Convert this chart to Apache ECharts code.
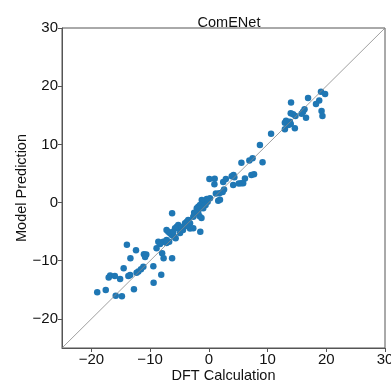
<!DOCTYPE html>
<html>
<head>
<meta charset="utf-8">
<script src="https://cdn.jsdelivr.net/npm/echarts@6/dist/echarts.min.js"></script>
<style>
  html, body { margin: 0; padding: 0; background: #fff; }
  #chart { width: 391px; height: 382px; }
</style>
</head>
<body>
<div id="chart"></div>
<script>
// DFT value (x) and model prediction (y)
const dftValues = [
  19.1, 19.8, 16.9, 14.0, 18.8, 18.25, 19.2, 19.35, 16.3, 16.05,
  15.8, 13.95, 14.35, 14.75, 16.55, 13.15, 12.95, 13.8, 13.95, 13.55,
  12.95, 14.65, 10.6, 8.7, 7.45, 6.9, 5.55, 9.15, 4.2, 3.9,
  4.35, 2.9, 7.7, 7.25, 6.15, 5.85, 5.5, 5.1, 4.15, 2.6,
  2.35, 1.8, 1.6, 1.9, 0.1, 1.0, 0.95, 2.45, 1.2, -1.2,
  -0.35, 0.2, -0.95, -0.2, -1.5, -1.8, -2.05, -0.55, -0.95, -1.8,
  -2.25, -2.5, -1.6, -1.25, -2.65, -6.25, -3.5, -3.75, -3.2, -4.05,
  -5.2, -5.45, -5.1, -4.6, -5.75, -3.2, -2.65, -1.45, -7.2, -6.9,
  -6.6, -6.3, -6.05, -5.9, -5.65, -8.6, -7.75, -7.2, -6.75, -7.2,
  -8.3, -8.9, -7.95, -7.7, -6.25, -13.95, -12.4, -11.05, -10.65, -10.85,
  -13.35, -9.45, -14.5, -11.15, -11.55, -12.0, -12.3, -16.8, -17.05, -16.0,
  -15.1, -13.7, -13.4, -8.1, -9.4, -12.75, -17.55, -19.0, -15.85, -14.8,
  -4.9, -4.4, -3.9
];
const predValues = [
  19.05, 18.66, 17.97, 17.2, 17.54, 16.94, 15.73, 14.87, 16.03, 15.6,
  15.27, 15.34, 15.18, 14.87, 14.58, 14.07, 13.72, 13.9, 13.5, 13.33,
  12.59, 12.76, 11.83, 9.89, 7.6, 7.23, 6.85, 6.92, 4.73, 4.51,
  4.34, 4.05, 4.85, 4.73, 4.13, 3.3, 3.3, 3.27, 3.02, 2.24,
  1.81, 1.59, 0.32, 0.47, 4.05, 4.08, 3.14, 3.53, 1.55, 0.44,
  0.61, 0.73, 0.14, 0.14, -0.42, -0.71, -1.0, -0.42, -1.0, -1.57,
  -1.85, -1.75, -2.31, -2.66, -2.43, -1.85, -3.0, -3.29, -3.57, -3.57,
  -3.86, -4.15, -4.43, -4.26, -4.43, -4.46, -4.43, -5.0, -4.72, -5.0,
  -5.29, -5.58, -5.0, -5.87, -6.15, -6.73, -6.73, -6.44, -6.73, -6.95,
  -7.13, -7.87, -8.72, -9.58, -9.58, -7.25, -8.2, -8.9, -8.93, -9.36,
  -9.58, -10.96, -11.3, -11.05, -11.47, -11.85, -12.06, -12.54, -12.88, -12.63,
  -13.14, -12.63, -12.45, -12.4, -13.78, -14.91, -15.03, -15.4, -16.0, -16.1,
  -5.24, -4.72, -4.03
];
const tickValues = [-20, -10, 0, 10, 20, 30];
const axisMin = -25;
const axisMax = 30;

const points = dftValues.map((x, i) => [x, predValues[i]]);

const chart = echarts.init(document.getElementById('chart'));

const axisCommon = {
  type: 'value',
  min: axisMin,
  max: axisMax,
  nameLocation: 'middle',
  nameMoveOverlap: false,
  nameTextStyle: { fontSize: 14.5, color: '#111', fontFamily: 'Liberation Sans' },
  splitLine: { show: false },
  axisLine: { show: true, onZero: false, lineStyle: { color: '#555', width: 1 } },
  axisTick: { show: true, length: 4, customValues: tickValues, lineStyle: { color: '#555' } },
  axisLabel: {
    customValues: tickValues,
    fontSize: 15,
    margin: 4,
    color: '#111',
    fontFamily: 'Liberation Sans',
    formatter: v => String(v).replace('-', '\u2212')
  }
};

chart.setOption({
  animation: false,
  backgroundColor: '#fff',
  title: {
    text: 'ComENet',
    left: 224,
    top: 10,
    textAlign: 'center',
    textStyle: { fontSize: 14.5, fontWeight: 'normal', color: '#111', fontFamily: 'Liberation Sans' }
  },
  grid: {
    left: 62, right: 6, top: 28, bottom: 34,
    outerBoundsMode: 'none',
    containLabel: false,
    show: true, borderColor: '#555', borderWidth: 1
  },
  xAxis: Object.assign({}, axisCommon, { name: 'DFT Calculation', nameGap: 20 }),
  yAxis: Object.assign({}, axisCommon, { name: 'Model Prediction', nameGap: 33 }),
  series: [
    {
      type: 'scatter',
      data: points,
      symbolSize: 6.5,
      itemStyle: { color: '#1f77b4', opacity: 1 },
      z: 2
    },
    {
      type: 'line',
      data: [[axisMin, axisMin], [axisMax, axisMax]],
      symbol: 'none',
      silent: true,
      lineStyle: { color: '#888', width: 0.8 },
      z: 3
    }
  ]
});
</script>
</body>
</html>
